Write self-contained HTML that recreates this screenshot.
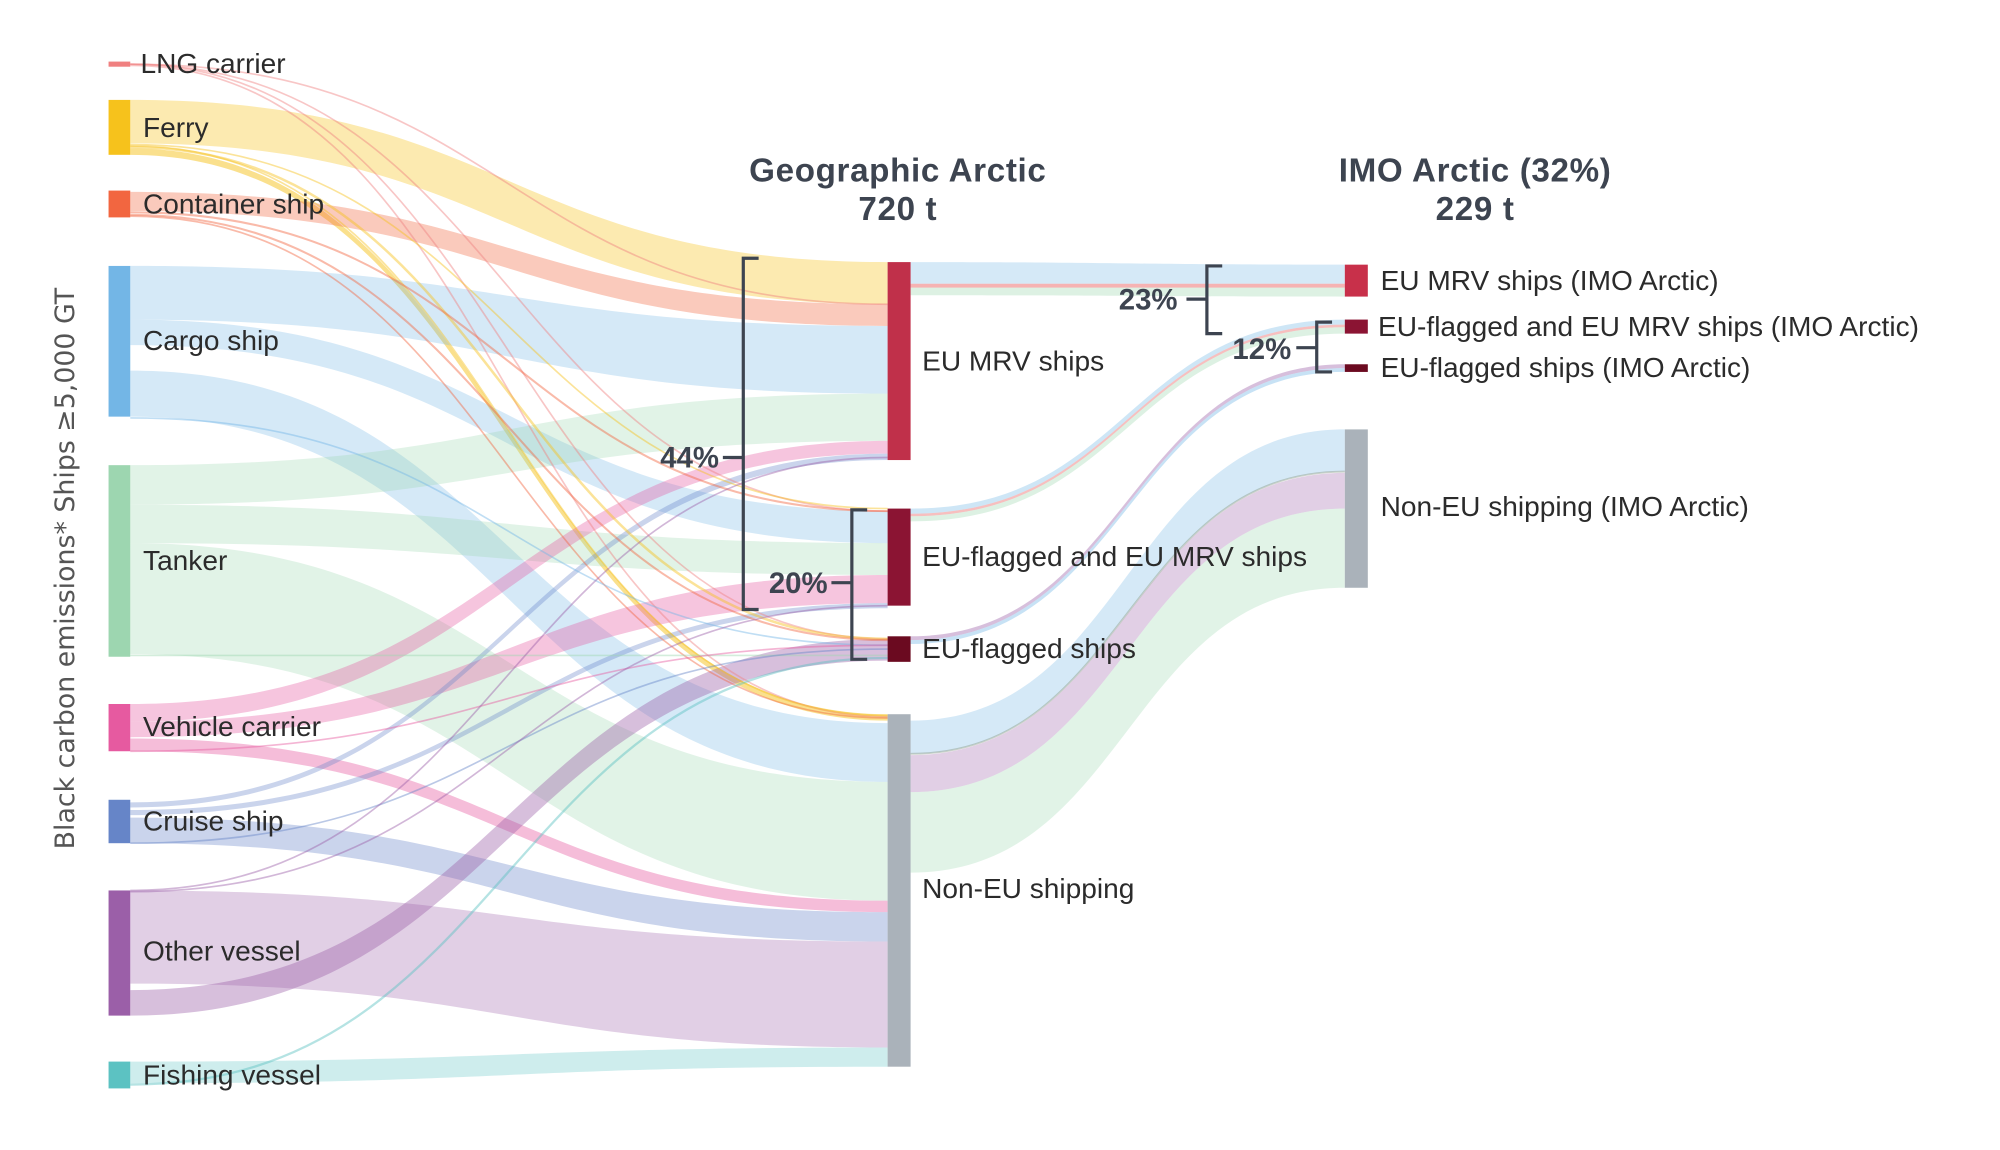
<!DOCTYPE html>
<html><head><meta charset="utf-8"><style>
html,body{margin:0;padding:0;background:#fff;}
svg{display:block;}
text{font-family:"Liberation Sans",sans-serif;fill:#2b2b2b;}
.t{font-size:22px;}
.b{font-weight:bold;fill:#3d4450;font-size:23px;}
.h{font-weight:bold;fill:#3d4450;font-size:26px;letter-spacing:0.5px;}
</style></head><body>
<svg width="2000" height="1150" viewBox="0 0 1566 900" xmlns="http://www.w3.org/2000/svg">
<g id="links"></g>
<rect x="85" y="48" width="17" height="4" fill="#f08080"/>
<rect x="85" y="78" width="17" height="43" fill="#f6c21c"/>
<rect x="85" y="149" width="17" height="21" fill="#f26640"/>
<rect x="85" y="208" width="17" height="118" fill="#73b6e6"/>
<rect x="85" y="364" width="17" height="150" fill="#9dd6b0"/>
<rect x="85" y="551" width="17" height="37" fill="#e65aa0"/>
<rect x="85" y="626" width="17" height="34" fill="#6685c8"/>
<rect x="85" y="697" width="17" height="98" fill="#9b5fa8"/>
<rect x="85" y="831" width="17" height="21" fill="#5cc2c2"/>
<rect x="695" y="205" width="18" height="155" fill="#c0304a"/>
<rect x="695" y="398" width="18" height="76" fill="#8b1433"/>
<rect x="695" y="498" width="18" height="20" fill="#6b0a20"/>
<rect x="695" y="559" width="18" height="276" fill="#aab2ba"/>
<rect x="1053" y="207" width="18" height="25" fill="#c8304a"/>
<rect x="1053" y="250" width="18" height="11" fill="#8b1433"/>
<rect x="1053" y="285" width="18" height="6" fill="#6b0a20"/>
<rect x="1053" y="336" width="18" height="124" fill="#aab2ba"/>
<text class="t" x="110" y="57">LNG carrier</text>
<text class="t" x="112" y="107">Ferry</text>
<text class="t" x="112" y="167">Container ship</text>
<text class="t" x="112" y="274">Cargo ship</text>
<text class="t" x="112" y="446">Tanker</text>
<text class="t" x="112" y="576">Vehicle carrier</text>
<text class="t" x="112" y="650">Cruise ship</text>
<text class="t" x="112" y="752">Other vessel</text>
<text class="t" x="112" y="849">Fishing vessel</text>
<text class="t" x="722" y="290">EU MRV ships</text>
<text class="t" x="722" y="443">EU-flagged and EU MRV ships</text>
<text class="t" x="722" y="515">EU-flagged ships</text>
<text class="t" x="722" y="703">Non-EU shipping</text>
<text class="t" x="1081" y="227">EU MRV ships (IMO Arctic)</text>
<text class="t" x="1079" y="263">EU-flagged and EU MRV ships (IMO Arctic)</text>
<text class="t" x="1081" y="295">EU-flagged ships (IMO Arctic)</text>
<text class="t" x="1081" y="404">Non-EU shipping (IMO Arctic)</text>
<text class="h" x="703" y="142" text-anchor="middle">Geographic Arctic</text>
<text class="h" x="703" y="172" text-anchor="middle">720 t</text>
<text class="h" x="1155" y="142" text-anchor="middle">IMO Arctic (32%)</text>
<text class="h" x="1155" y="172" text-anchor="middle">229 t</text>
<text x="58" y="445" transform="rotate(-90 58 445)" text-anchor="middle" style="font-size:21px;fill:#555;font-family:'DejaVu Sans',sans-serif">Black carbon emissions* Ships ≥5,000 GT</text>
<g fill="none" stroke="#3d4450" stroke-width="2.5">
<path d="M594 202 H582 V477 H594 M566 358 H582"/>
<path d="M679 399 H667 V516 H679 M651 456 H667"/>
<path d="M957 208 H945 V261 H957 M929 234 H945"/>
<path d="M1043 252 H1031 V291 H1043 M1015 272 H1031"/>
</g>
<text class="b" x="563" y="366" text-anchor="end">44%</text>
<text class="b" x="648" y="464" text-anchor="end">20%</text>
<text class="b" x="922" y="242" text-anchor="end">23%</text>
<text class="b" x="1011" y="281" text-anchor="end">12%</text>
<script>
var g=document.getElementById('links');
function band(x0,x1,s0,s1,t0,t1,c,o){var m=(x0+x1)/2;var p=document.createElementNS('http://www.w3.org/2000/svg','path');
p.setAttribute('d','M'+x0+','+s0+' C'+m+','+s0+' '+m+','+t0+' '+x1+','+t0+' L'+x1+','+t1+' C'+m+','+t1+' '+m+','+s1+' '+x0+','+s1+' Z');
p.setAttribute('fill',c);p.setAttribute('fill-opacity',o||0.3);g.appendChild(p);}
function line(x0,x1,s,t,c,w){var m=(x0+x1)/2;var p=document.createElementNS('http://www.w3.org/2000/svg','path');
p.setAttribute('d','M'+x0+','+s+' C'+m+','+s+' '+m+','+t+' '+x1+','+t);p.setAttribute('stroke',c);p.setAttribute('stroke-width',w||1.3);p.setAttribute('fill','none');p.setAttribute('stroke-opacity',0.45);g.appendChild(p);}
var A=102,B=695,C=713,D=1053;
var Y='#f6c21c',R='#f26640',Bl='#73b6e6',G='#9dd6b0',P='#e65aa0',Cr='#6685c8',Pu='#9b5fa8',F='#5cc2c2',L='#f08080';
band(A,B,78,112,205,238,Y,0.35);
band(A,B,116,121,559,564,Y,0.5);
band(A,B,150,165,238,255,R,0.35);
band(A,B,208,250,255,308,Bl);
band(A,B,250,270,400,425,Bl);
band(A,B,290,326,566,612,Bl);
band(A,B,364,395,308,345,G);
band(A,B,395,425,425,450,G);
band(A,B,425,512,612,705,G);
band(A,B,551,565,345,355,P,0.35);
band(A,B,565,577,450,472,P,0.35);
band(A,B,578,588,705,714,P,0.4);
band(A,B,628,632,355,360,Cr,0.35);
band(A,B,634,638,472,476,Cr,0.35);
band(A,B,640,660,714,737,Cr,0.35);
band(A,B,697,770,737,820,Pu,0.3);
band(A,B,775,795,500,517,Pu,0.4);
band(A,B,831,848,820,835,F,0.3);
line(A,B,50,238,L);line(A,B,50,400,L);line(A,B,50,500,L);line(A,B,51,561,L);
line(A,B,113,398,Y);line(A,B,115,500,Y,2);line(A,B,114,560,Y);
line(A,B,166,400,R,1.6);line(A,B,168,501,R,1.6);line(A,B,169,562,R);
line(A,B,327,505,Bl);line(A,B,513,513,G);line(A,B,588,505,P);
line(A,B,660,508,Cr);line(A,B,697,358,Pu);line(A,B,698,474,Pu);line(A,B,849,515,F,1.8);
band(C,D,205,222,207,222,Bl,0.3);
band(C,D,222,225,222,225,L,0.6);
band(C,D,225,231,225,232,G,0.35);
band(C,D,398,402,250,254,Bl,0.35);
band(C,D,402,404,254,256,L,0.5);
band(C,D,404,408,256,261,G,0.35);
band(C,D,498,501,285,288,Pu,0.4);
band(C,D,501,504,288,291,Bl,0.4);
band(C,D,564,590,336,369,Bl,0.3);
band(C,D,591,620,370,398,Pu,0.3);
band(C,D,620,683,398,460,G,0.3);
line(C,D,590,369,'#889988',1.5);
</script>
</svg>
</body></html>
